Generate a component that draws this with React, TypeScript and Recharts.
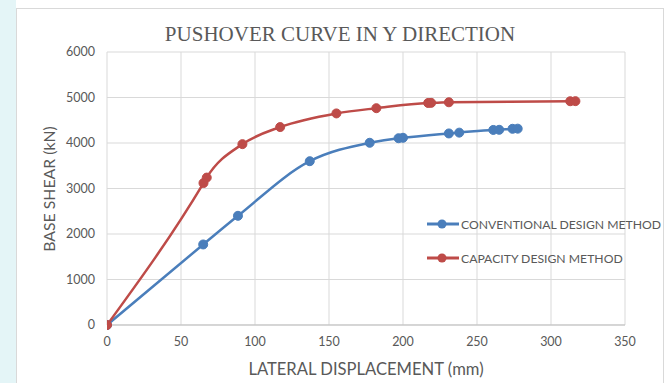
import { LineChart, Line, XAxis, YAxis, CartesianGrid } from 'recharts';

// lateral displacement (mm) / base shear (kN)
const convDisp = [0, 65, 88.5, 137, 177.5, 197, 200, 231, 238, 261, 265, 274, 277.5];
const convShear = [0, 1770, 2400, 3600, 4005, 4105, 4115, 4210, 4228, 4287, 4290, 4312, 4315];

const capDisp = [0, 65.2, 67.4, 91.5, 117, 155, 182, 217, 219, 231, 313, 316.5];
const capShear = [0, 3120, 3240, 3975, 4350, 4650, 4765, 4880, 4882, 4895, 4918, 4920];

const xTicks = [0, 50, 100, 150, 200, 250, 300, 350];
const yTicks = [0, 1000, 2000, 3000, 4000, 5000, 6000];

const conventional = convDisp.map((x, i) => ({ x, y: convShear[i] }));
const capacity = capDisp.map((x, i) => ({ x, y: capShear[i] }));

const BLUE = '#4a7ebb';
const RED = '#be4b48';
const FONT = 'Lato, "Open Sans", sans-serif';

const series = [
  { name: 'CONVENTIONAL DESIGN METHOD', color: BLUE, data: conventional },
  { name: 'CAPACITY DESIGN METHOD', color: RED, data: capacity },
];

function LegendBox() {
  return (
    <div style={{ position: 'absolute', left: 426, top: 207, fontFamily: FONT, fontSize: 12.2, color: '#595959' }}>
      {series.map((s) => (
        <div key={s.name} style={{ display: 'flex', alignItems: 'center', height: 34, whiteSpace: 'nowrap' }}>
          <svg width={34} height={12} style={{ marginRight: 1 }}>
            <line x1={1} y1={6} x2={33} y2={6} stroke={s.color} strokeWidth={3} />
            <circle cx={16} cy={6} r={4.5} fill={s.color} />
          </svg>
          <span>{s.name}</span>
        </div>
      ))}
    </div>
  );
}

export default function App() {
  return (
    <div style={{ position: 'absolute', left: 0, top: 0, width: 666, height: 383, background: '#fff', overflow: 'hidden' }}>
      <div style={{ position: 'absolute', left: 0, top: 0, width: 16, height: 383, background: '#e4f5f7' }} />
      <div style={{ position: 'absolute', left: 16, top: 8, width: 646, height: 380, border: '1px solid #d9d9d9', background: '#fff' }} />
      <div style={{ position: 'absolute', left: 0, top: 22, width: 680, textAlign: 'center', fontFamily: '"Liberation Serif", serif', fontSize: 21, color: '#595959' }}>
        PUSHOVER CURVE IN Y DIRECTION
      </div>
      <div style={{ position: 'absolute', left: 48, top: 189, transform: 'translate(-50%, -50%) rotate(-90deg)', whiteSpace: 'nowrap', fontFamily: FONT, fontSize: 15.8, color: '#595959' }}>
        BASE SHEAR (kN)
      </div>
      <div style={{ position: 'absolute', left: 0, top: 359, width: 732, textAlign: 'center', fontFamily: FONT, fontSize: 16.6, color: '#595959' }}>
        LATERAL DISPLACEMENT (mm)
      </div>
      <div style={{ position: 'absolute', left: 0, top: 0 }}>
        <LineChart width={666} height={383} margin={{ top: 52, right: 41, bottom: 28, left: 57 }}>
          <CartesianGrid stroke="#d9d9d9" strokeWidth={1} />
          <XAxis
            type="number"
            dataKey="x"
            domain={[0, 350]}
            ticks={xTicks}
            allowDataOverflow
            height={30}
            tickLine={false}
            tickSize={0}
            tickMargin={12}
            stroke="#bfbfbf"
            tick={{ fill: '#595959', fontSize: 12.5, fontFamily: FONT }}
          />
          <YAxis
            type="number"
            dataKey="y"
            domain={[0, 6000]}
            ticks={yTicks}
            width={50}
            axisLine={false}
            tickLine={false}
            tickSize={0}
            tickMargin={12}
            tick={{ fill: '#595959', fontSize: 12.5, fontFamily: FONT }}
          />
          {series.map((s) => (
            <Line
              key={s.name}
              data={s.data}
              dataKey="y"
              name={s.name}
              type="monotone"
              stroke={s.color}
              strokeWidth={2.5}
              dot={{ r: 4.5, fill: s.color, stroke: s.color, strokeWidth: 1 }}
              isAnimationActive={false}
            />
          ))}
        </LineChart>
      </div>
      <LegendBox />
    </div>
  );
}
